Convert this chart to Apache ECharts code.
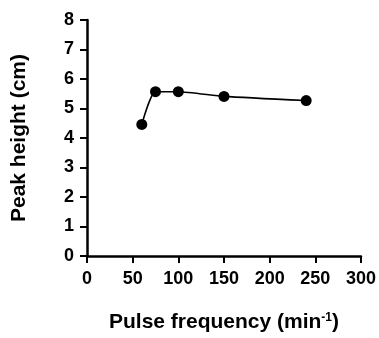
<!DOCTYPE html>
<html>
<head>
<meta charset="utf-8">
<script src="https://cdn.jsdelivr.net/npm/echarts@6/dist/echarts.min.js"></script>
<style>
  html, body { margin: 0; padding: 0; background: #fff; }
  #chart { width: 379px; height: 338px; }
</style>
</head>
<body>
<div id="chart"></div>
<script>
// pulse frequency (min^-1) vs peak height (cm)
const pulseFreq = [60, 75, 100, 150, 240];
const peakHeight = [4.46, 5.57, 5.57, 5.41, 5.27];

const font = 'Liberation Sans, Arial, sans-serif';

const chart = echarts.init(document.getElementById('chart'), null, { renderer: 'canvas' });

const axisCommon = {
  axisLine: { show: true, onZero: false, lineStyle: { color: '#000', width: 2.5 } },
  axisTick: { show: true, inside: false, length: 7, lineStyle: { color: '#000', width: 2 } },
  axisLabel: { color: '#000', fontFamily: font, fontWeight: 'bold', fontSize: 18 },
  splitLine: { show: false },
  nameLocation: 'middle',
  nameTextStyle: { color: '#000', fontFamily: font, fontWeight: 'bold', fontSize: 21 },
};

chart.setOption({
  backgroundColor: '#fff',
  animation: false,
  grid: { left: 87, right: 18, top: 20, bottom: 79 },
  xAxis: {
    ...axisCommon,
    type: 'value',
    min: 0,
    max: 300,
    interval: 50,
    axisLabel: { ...axisCommon.axisLabel, margin: 14 },
    name: 'Pulse frequency (min{sup|-1})',
    nameGap: 56,
    nameTextStyle: {
      ...axisCommon.nameTextStyle,
      rich: {
        sup: { fontFamily: font, fontWeight: 'bold', fontSize: 12, color: '#000', verticalAlign: 'top', padding: [0, 0, 9, 0] },
      },
    },
  },
  yAxis: {
    ...axisCommon,
    type: 'value',
    min: 0,
    max: 8,
    interval: 1,
    axisLabel: { ...axisCommon.axisLabel, margin: 13 },
    name: 'Peak height (cm)',
    nameGap: 57,
  },
  series: [
    {
      type: 'line',
      data: pulseFreq.map((x, i) => [x, peakHeight[i]]),
      smooth: 0.2,
      symbol: 'circle',
      symbolSize: 11,
      itemStyle: { color: '#000' },
      lineStyle: { color: '#000', width: 1.6 },
    },
  ],
});
</script>
</body>
</html>
